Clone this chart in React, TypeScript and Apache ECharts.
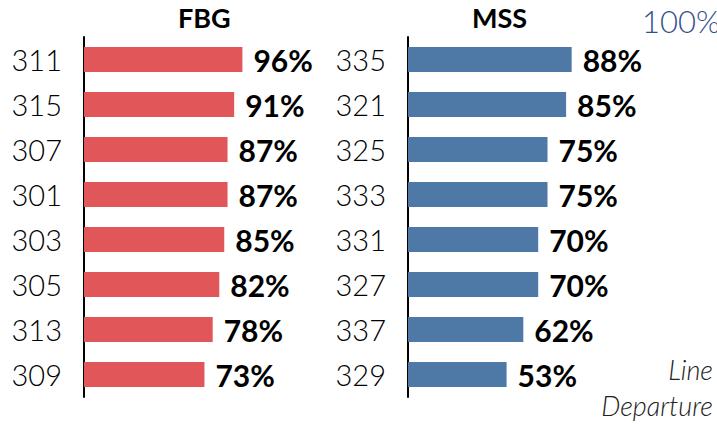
import React, { useEffect, useRef } from "react";
import * as echarts from "echarts";

const fbgCategories = ["311", "315", "307", "301", "303", "305", "313", "309"];
const fbgValues = [96, 91, 87, 87, 85, 82, 78, 73];
const mssCategories = ["335", "321", "325", "333", "331", "327", "337", "329"];
const mssValues = [88, 85, 75, 75, 70, 70, 62, 53];

const FONT = "Lato";

export default function App() {
  const ref = useRef<HTMLDivElement>(null);
  useEffect(() => {
    if (!ref.current) return;
    const chart = echarts.init(ref.current, null, { renderer: "svg" });
    const yAxisBase = (idx: number, data: string[]) => ({
      type: "category",
      gridIndex: idx,
      data,
      inverse: true,
      axisLine: { show: true, lineStyle: { color: "#000", width: 2 } },
      axisTick: { show: false },
      axisLabel: { fontFamily: FONT, fontWeight: 300, fontSize: 29, color: "#000", margin: 22 },
      splitLine: { show: false },
    });
    const xAxisBase = (idx: number) => ({
      type: "value",
      gridIndex: idx,
      min: 0,
      max: 100,
      show: false,
    });
    const seriesBase = (idx: number, data: number[], color: string) => ({
      type: "bar",
      xAxisIndex: idx,
      yAxisIndex: idx,
      data,
      barWidth: 25,
      itemStyle: { color },
      label: {
        show: true,
        position: "right",
        distance: 11,
        formatter: "{c}%",
        fontFamily: FONT,
        fontWeight: "bold",
        fontSize: 30,
        color: "#000",
      },
    });
    chart.setOption({
      animation: false,
      backgroundColor: "#fff",
      grid: [
        { left: 84, top: 37, width: 165, height: 360, containLabel: false },
        { left: 408, top: 37, width: 186, height: 360, containLabel: false },
      ],
      xAxis: [xAxisBase(0), xAxisBase(1)],
      yAxis: [yAxisBase(0, fbgCategories), yAxisBase(1, mssCategories)],
      series: [
        seriesBase(0, fbgValues, "#e15759"),
        seriesBase(1, mssValues, "#4e79a7"),
      ],
      graphic: [
        {
          type: "text",
          left: 178,
          top: 4,
          style: { text: "FBG", fontFamily: FONT, fontWeight: "bold", fontSize: 27, fill: "#000" },
        },
        {
          type: "text",
          left: 472,
          top: 4,
          style: { text: "MSS", fontFamily: FONT, fontWeight: "bold", fontSize: 27, fill: "#000" },
        },
        {
          type: "text",
          left: 642,
          top: 5,
          style: { text: "100%", fontFamily: FONT, fontWeight: 300, fontSize: 31, fill: "#34508c" },
        },
        {
          type: "text",
          right: 4,
          top: 356,
          style: { text: "Line", fontFamily: FONT, fontWeight: 300, fontStyle: "italic", fontSize: 27, fill: "#222" },
        },
        {
          type: "text",
          right: 4,
          top: 392,
          style: { text: "Departure", fontFamily: FONT, fontWeight: 300, fontStyle: "italic", fontSize: 27, fill: "#222" },
        },
      ],
    });
    return () => chart.dispose();
  }, []);
  return <div ref={ref} style={{ width: 717, height: 424, position: "absolute", left: 0, top: 0 }} />;
}
